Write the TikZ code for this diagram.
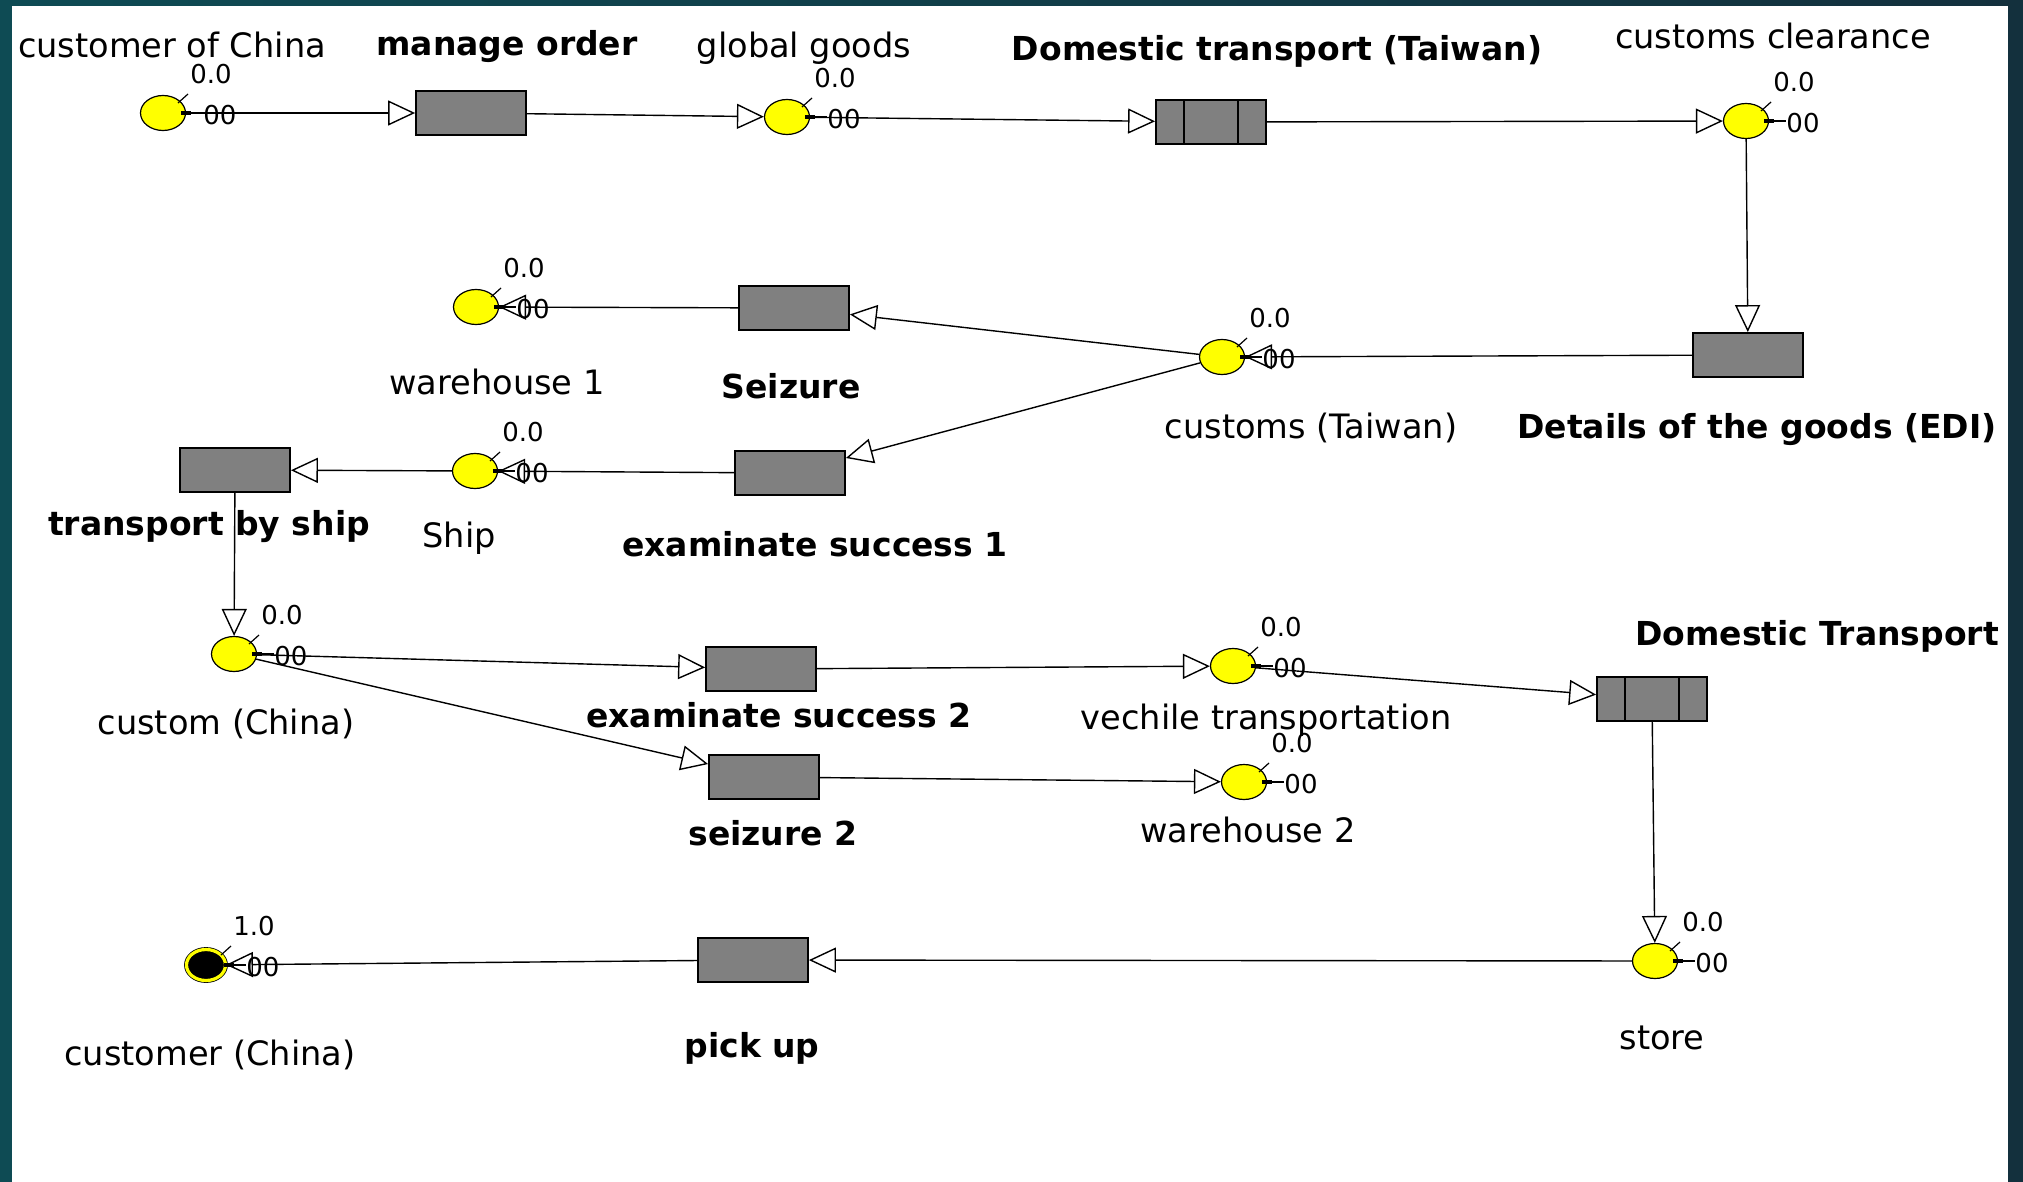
\documentclass[tikz,border=0pt]{standalone}
\usepackage{fontspec}
\setmainfont{DejaVu Sans}
\usetikzlibrary{shapes.geometric,arrows.meta}
\definecolor{bgA}{HTML}{0E4B54}
\definecolor{bgB}{HTML}{13303D}
\definecolor{tgray}{HTML}{808080}
\definecolor{pyellow}{HTML}{FFFF00}
\tikzset{
  place/.style={ellipse, draw=black, fill=pyellow, line width=0.6pt, minimum width=22.5pt, minimum height=17.5pt, inner sep=0pt},
  tokplace/.style={ellipse, draw=black, fill=black, double=pyellow, double distance=1.6pt, line width=0.4pt, minimum width=19.5pt, minimum height=15.5pt, inner sep=0pt},
  trans/.style={rectangle, draw=black, fill=tgray, line width=0.9pt, minimum width=55pt, minimum height=22pt, inner sep=0pt},
  arc/.style={draw=black, line width=0.7pt, -{Triangle[open,length=13.5pt,width=12.5pt,line width=0.7pt]}},
  lab/.style={font=\fontsize{16.8}{20}\selectfont, inner sep=0pt, text height=12pt, text depth=3.5pt},
  blab/.style={font=\fontsize{16.5}{20}\selectfont\bfseries, inner sep=0pt, text height=12pt, text depth=3.5pt},
  num/.style={font=\fontsize{13}{15}\selectfont, inner sep=0pt},
}
\newcommand{\pdeco}[2]{%
  \draw[line width=0.6pt] ([shift={(15,-10)}]#1.center) -- ([shift={(25,-19)}]#1.center);
  \draw[line width=1.8pt] ([shift={(18,0)}]#1.center) -- ([shift={(28,0)}]#1.center);
  \draw[line width=0.6pt] ([shift={(28,0)}]#1.center) -- ([shift={(40,0)}]#1.center);
  \node[num] (#1-inf) at ([shift={(57,2)}]#1.center) {00};
  \node[num] (#1-tok) at ([shift={(48,-39)}]#1.center) {#2};
}
\newcommand{\tbars}[1]{%
  \draw[line width=0.9pt] ([shift={(-27,-22)}]#1.center) -- ([shift={(-27,22)}]#1.center);
  \draw[line width=0.9pt] ([shift={(27,-22)}]#1.center) -- ([shift={(27,22)}]#1.center);
}
\begin{document}
\begin{tikzpicture}[x=0.5pt,y=-0.5pt]
\useasboundingbox (0,0) rectangle (2023,1182);
\shade[left color=bgA, right color=bgB] (0,0) rectangle (2023,1182);
\fill[white] (12,6) rectangle (2008,1182);

% places
\node[place] (P1) at (163,113) {};
\node[place] (P2) at (787,117) {};
\node[place] (P3) at (1746,121) {};
\node[place] (P4) at (1222,357) {};
\node[place] (P5) at (476,307) {};
\node[place] (P6) at (475,471) {};
\node[place] (P7) at (234,654) {};
\node[place] (P8) at (1233,666) {};
\node[place] (P9) at (1244,782) {};
\node[place] (P10) at (1655,961) {};
\node[tokplace] (P11) at (206,965) {};

% transitions
\node[trans] (T1) at (471,113) {};
\node[trans] (T2) at (1211,122) {};
\node[trans] (T3) at (1748,355) {};
\node[trans] (T4) at (794,308) {};
\node[trans] (T5) at (790,473) {};
\node[trans] (T6) at (235,470) {};
\node[trans] (T7) at (761,669) {};
\node[trans] (T8) at (764,777) {};
\node[trans] (T9) at (1652,699) {};
\node[trans] (T10) at (753,960) {};
\tbars{T2}
\tbars{T9}

% decorations of places
\pdeco{P1}{0.0}
\pdeco{P2}{0.0}
\pdeco{P3}{0.0}
\pdeco{P4}{0.0}
\pdeco{P5}{0.0}
\pdeco{P6}{0.0}
\pdeco{P7}{0.0}
\pdeco{P8}{0.0}
\pdeco{P9}{0.0}
\pdeco{P10}{0.0}
\pdeco{P11}{1.0}

% arcs
\draw[arc] (P1) -- (T1);
\draw[arc] (T1) -- (P2);
\draw[arc] (P2) -- (T2);
\draw[arc] (T2) -- (P3);
\draw[arc] (P3) -- (T3);
\draw[arc] (T3) -- (P4);
\draw[arc] (P4) -- (T4);
\draw[arc] (T4) -- (P5);
\draw[arc] (P4) -- (T5);
\draw[arc] (T5) -- (P6);
\draw[arc] (P6) -- (T6);
\draw[arc] (T6) -- (P7);
\draw[arc] (P7) -- (T7);
\draw[arc] (P7) -- (T8);
\draw[arc] (T7) -- (P8);
\draw[arc] (T8) -- (P9);
\draw[arc] (P8) -- (T9);
\draw[arc] (T9) -- (P10);
\draw[arc] (P10) -- (T10);
\draw[arc] (T10) -- (P11);

% labels
\node[lab] (L1) at (172,49) {customer of China};
\node[blab] (L2) at (507,47) {manage order};
\node[lab] (L3) at (804,49) {global goods};
\node[blab] (L4) at (1277,52) {Domestic transport (Taiwan)};
\node[lab] (L5) at (1773,40) {customs clearance};
\node[blab] (L6) at (1757,430) {Details of the goods (EDI)};
\node[lab] (L7) at (1311,430) {customs (Taiwan)};
\node[blab] (L8) at (791,390) {Seizure};
\node[lab] (L9) at (497,386) {warehouse 1};
\node[blab] (L10) at (815,548) {examinate success 1};
\node[lab] (L11) at (459,539) {Ship};
\node[blab] (L12) at (209,527) {transport by ship};
\node[lab] (L13) at (226,726) {custom (China)};
\node[blab] (L14) at (779,719) {examinate success 2};
\node[blab] (L15) at (773,837) {seizure 2};
\node[lab] (L16) at (1266,721) {vechile transportation};
\node[lab] (L17) at (1248,834) {warehouse 2};
\node[blab] (L18) at (1817,637) {Domestic Transport};
\node[lab] (L19) at (1662,1041) {store};
\node[blab] (L20) at (752,1049) {pick up};
\node[lab] (L21) at (210,1057) {customer (China)};
\end{tikzpicture}
\end{document}
